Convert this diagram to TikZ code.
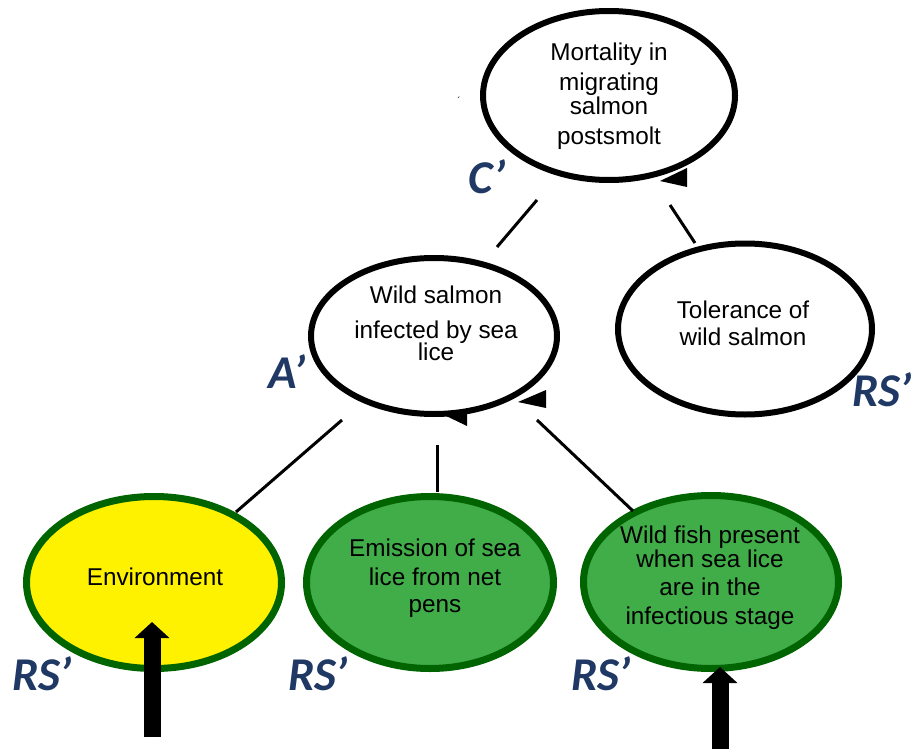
\documentclass[tikz,border=0pt]{standalone}
\usepackage{fontspec}
\setmainfont{Liberation Sans}
\newfontfamily\tagfont{Carlito}
\usetikzlibrary{shapes.geometric,arrows.meta}

\definecolor{tagblue}{HTML}{1F3864}
\definecolor{leafgreen}{HTML}{41AD49}
\definecolor{rimgreen}{HTML}{006400}
\definecolor{sunyellow}{HTML}{FFF200}

\tikzset{
  effect/.style={draw=black, line width=6pt, ellipse, fill=white, inner sep=0pt},
  cause/.style={draw=rimgreen, line width=7pt, ellipse, fill=leafgreen, inner sep=0pt},
  envcause/.style={cause, fill=sunyellow},
  caption/.style={align=center, font=\fontsize{24.3}{27}\selectfont, inner sep=0pt},
  tag/.style={font=\tagfont\bfseries\itshape\fontsize{47}{47}\selectfont, text=tagblue, inner sep=0pt},
  link/.style={line width=3pt, black},
  turnhead/.style={fill=black},
  driver/.style={line width=17pt, -{Triangle[width=34pt,length=16pt]}}
}

\begin{document}
\begin{tikzpicture}[x=1pt,y=-1pt]
\useasboundingbox (0,0) rectangle (913,749);

% ellipses of the chain
\node[effect, minimum width=252pt, minimum height=169pt] (mort) at (609,95.5) {};
\node[effect, minimum width=246pt, minimum height=156pt] (infect) at (434,336) {};
\node[effect, minimum width=254pt, minimum height=171pt] (toler) at (745,329) {};
\node[envcause, minimum width=255pt, minimum height=172pt] (env) at (154,582.5) {};
\node[cause, minimum width=247pt, minimum height=172pt] (emis) at (430,582.5) {};
\node[cause, minimum width=255pt, minimum height=173pt] (wild) at (711,582) {};

% captions
\node[caption] (morttxt) at (609,96) {Mortality in\\[3pt] migrating\\[-3pt] salmon\\[3pt] postsmolt};
\node[caption] (infecttxt) at (436,323) {Wild salmon\\[8pt] infected by sea\\[-5pt] lice};
\node[caption] (tolertxt) at (743,323) {Tolerance of\\ wild salmon};
\node[caption] (envtxt) at (155,577) {Environment};
\node[caption] (emistxt) at (435,578) {Emission of sea\\[2pt] lice from net\\ pens};
\node[caption] (wildtxt) at (710,578) {Wild fish present\\[-3pt] when sea lice\\[1pt] are in the\\[2pt] infectious stage};

% small turn heads on the ellipse rims
\fill[turnhead] (687,168) coordinate (mh1) -- (687,187) coordinate (mh2) -- (660,181) coordinate (mh3) -- cycle;
\fill[turnhead] (467,410) coordinate (ih1) -- (467,426) coordinate (ih2) -- (442,414) coordinate (ih3) -- cycle;
\fill[turnhead] (546,390) coordinate (jh1) -- (546,408) coordinate (jh2) -- (518,402) coordinate (jh3) -- cycle;

% connectors between levels
\coordinate (l1a) at (537,200); \coordinate (l1b) at (497,247);
\coordinate (l2a) at (670,205); \coordinate (l2b) at (695,243);
\coordinate (l3a) at (342,420); \coordinate (l3b) at (236,512);
\coordinate (l4a) at (437,445); \coordinate (l4b) at (437,492);
\coordinate (l5a) at (537,420); \coordinate (l5b) at (633,511);
\draw[link] (l1a) -- (l1b);
\draw[link] (l2a) -- (l2b);
\draw[link] (l3a) -- (l3b);
\draw[link] (l4a) -- (l4b);
\draw[link] (l5a) -- (l5b);

% external drivers
\coordinate (envbase) at (152,737); \coordinate (envtip) at (152,622);
\coordinate (wildbase) at (720,749); \coordinate (wildtip) at (720,667);
\draw[driver] (envbase) -- (envtip);
\draw[driver] (wildbase) -- (wildtip);

% node tags
\node[tag] (tagc) at (487,177) {C’};
\node[tag] (taga) at (287,372) {A’};
\node[tag, anchor=west] (tagt) at (852,390) {RS’};
\node[tag] (tage) at (42,674) {RS’};
\node[tag] (tagm) at (318,674) {RS’};
\node[tag] (tagw) at (601,674) {RS’};

% stray mark
\node[font=\fontsize{10}{10}\selectfont, inner sep=0pt] (mark) at (459,101) {´};
\end{tikzpicture}
\end{document}
